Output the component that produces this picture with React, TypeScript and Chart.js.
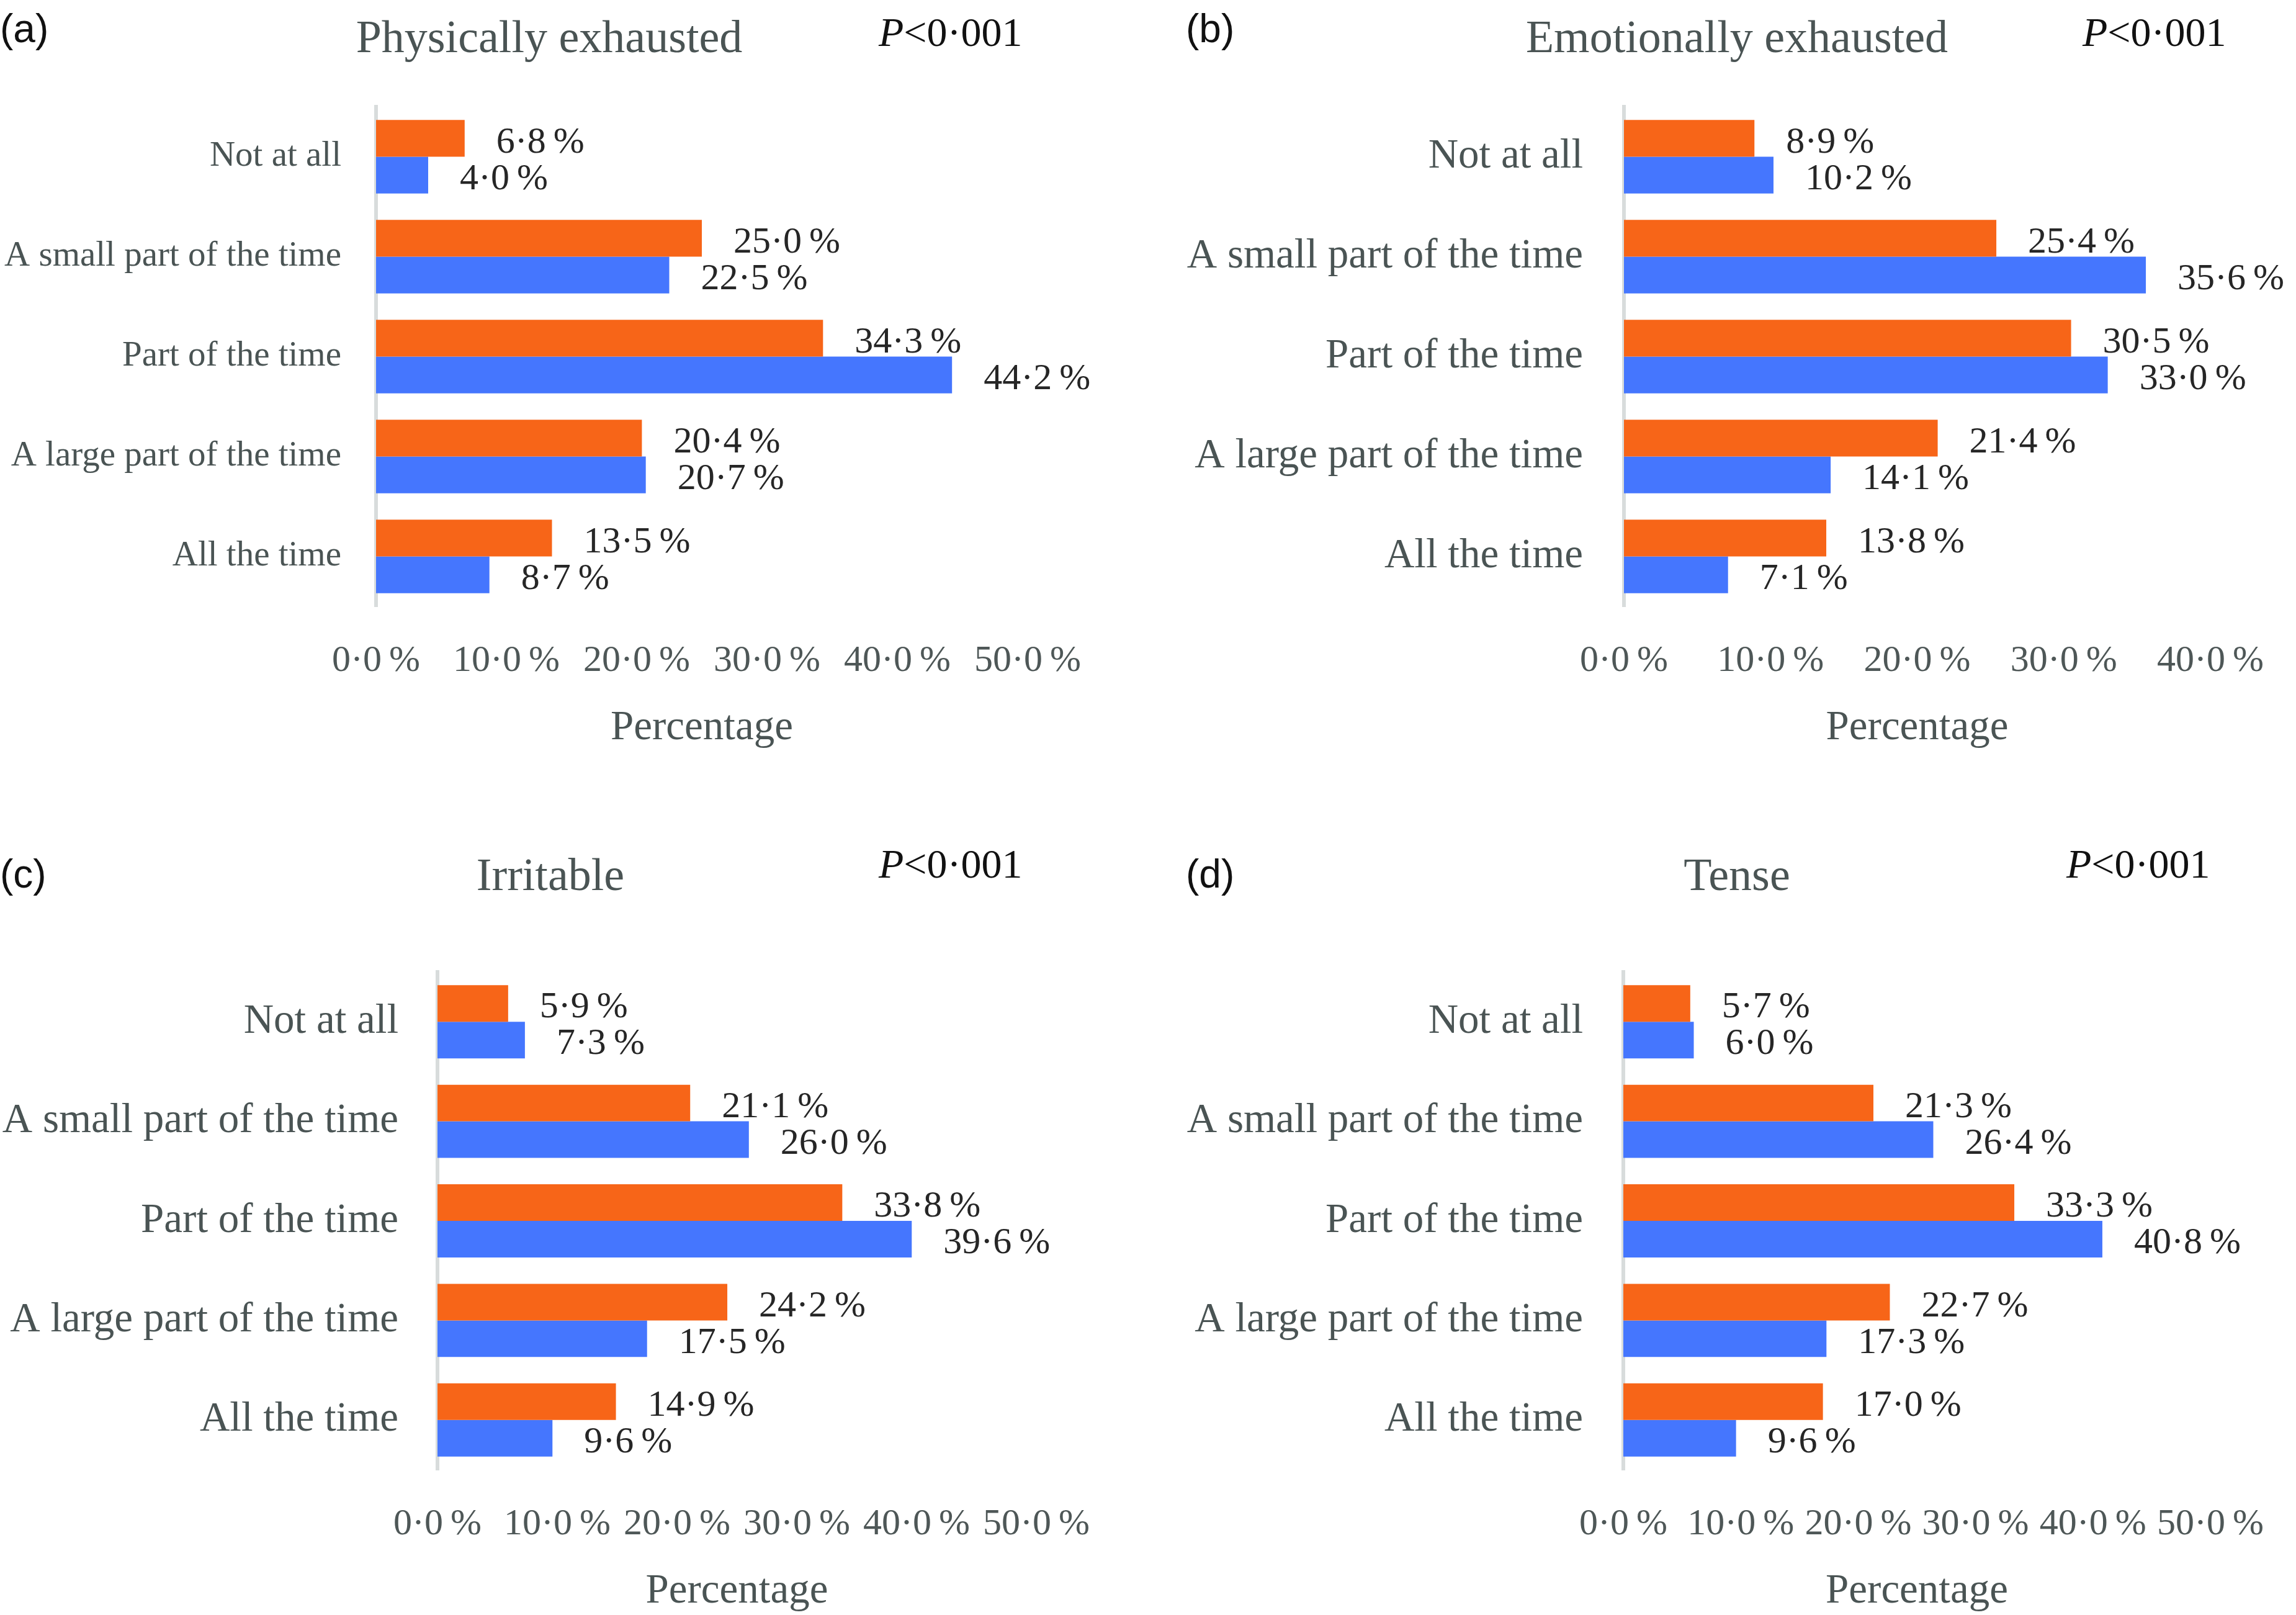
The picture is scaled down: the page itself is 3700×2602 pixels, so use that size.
import React, { useEffect, useRef } from "react";
import { Chart, registerables } from "chart.js";

Chart.register(...registerables);

// ---------------- DATA ----------------
const categories = [
  "Not at all",
  "A small part of the time",
  "Part of the time",
  "A large part of the time",
  "All the time",
];
const seriesNames = ["Group 1", "Group 2"];

const physicallyOrange = [6.8, 25.0, 34.3, 20.4, 13.5];
const physicallyBlue = [4.0, 22.5, 44.2, 20.7, 8.7];
const emotionallyOrange = [8.9, 25.4, 30.5, 21.4, 13.8];
const emotionallyBlue = [10.2, 35.6, 33.0, 14.1, 7.1];
const irritableOrange = [5.9, 21.1, 33.8, 24.2, 14.9];
const irritableBlue = [7.3, 26.0, 39.6, 17.5, 9.6];
const tenseOrange = [5.7, 21.3, 33.3, 22.7, 17.0];
const tenseBlue = [6.0, 26.4, 40.8, 17.3, 9.6];

const panelLetters = ["(a)", "(b)", "(c)", "(d)"];
const panelTitles = ["Physically exhausted", "Emotionally exhausted", "Irritable", "Tense"];
const pValueItalic = "P";
const pValueRest = "<0·001";
const axisMaxima = [50, 40, 50, 50];
const axisStep = 10;
const xAxisTitle = "Percentage";

const panelSeries = [
  [physicallyOrange, physicallyBlue],
  [emotionallyOrange, emotionallyBlue],
  [irritableOrange, irritableBlue],
  [tenseOrange, tenseBlue],
];

// ---------------- STYLE / LAYOUT ----------------
const SERIF = "'Liberation Serif', 'DejaVu Serif', serif";
const SANS = "'Liberation Sans', Arial, sans-serif";
const ORANGE = "#F76518";
const BLUE = "#4576FE";
const TEXT_GRAY = "#4A5454";
const TICK_GRAY = "#4E5757";
const LABEL_DARK = "#262626";
const AXIS_LINE = "#D8DCDC";

const X_AXIS_HEIGHT = 240;

const LAYOUT = [
  { left: 0, top: 0, width: 1850, axisLeft: 606, plotTop: 172, plotBottom: 977, plotRight: 1656, catFont: 57, catPad: 56,
    letterX: 0, letterY: 46, titleX: 885, titleY: 59, pX: 1416, pY: 52 },
  { left: 1850, top: 0, width: 1850, axisLeft: 2617, plotTop: 172, plotBottom: 977, plotRight: 3565, catFont: 67, catPad: 66,
    letterX: 1911, letterY: 46, titleX: 2799, titleY: 59, pX: 3356, pY: 52 },
  { left: 0, top: 1300, width: 1850, axisLeft: 705, plotTop: 1566, plotBottom: 2368, plotRight: 1670, catFont: 67, catPad: 63,
    letterX: 0, letterY: 1408, titleX: 887, titleY: 1409, pX: 1416, pY: 1392 },
  { left: 1850, top: 1300, width: 1850, axisLeft: 2616, plotTop: 1566, plotBottom: 2368, plotRight: 3583, catFont: 67, catPad: 65,
    letterX: 1911, letterY: 1408, titleX: 2799, titleY: 1409, pX: 3330, pY: 1392 },
];

function fmtPct(v: number): string {
  return v.toFixed(1).replace(".", "·") + "\u2009%";
}

const valueLabels = {
  id: "valueLabels",
  afterDatasetsDraw(chart: any) {
    const ctx = chart.ctx;
    ctx.save();
    ctx.font = `60px ${SERIF}`;
    ctx.fillStyle = LABEL_DARK;
    ctx.textAlign = "left";
    ctx.textBaseline = "middle";
    chart.data.datasets.forEach((ds: any, i: number) => {
      const meta = chart.getDatasetMeta(i);
      meta.data.forEach((el: any, j: number) => {
        ctx.fillText(fmtPct(ds.data[j]), el.x + 51, el.y + 7);
      });
    });
    ctx.restore();
  },
};

function Panel({ idx }: { idx: number }) {
  const ref = useRef<HTMLCanvasElement>(null);
  const L = LAYOUT[idx];
  const canvasHeight = L.plotBottom - L.top + X_AXIS_HEIGHT;

  useEffect(() => {
    const [orange, blue] = panelSeries[idx];
    const chart = new Chart(ref.current as HTMLCanvasElement, {
      type: "bar",
      data: {
        labels: categories,
        datasets: [
          { label: seriesNames[0], data: orange, backgroundColor: ORANGE, borderWidth: 0, categoryPercentage: 0.735, barPercentage: 1.0 },
          { label: seriesNames[1], data: blue, backgroundColor: BLUE, borderWidth: 0, categoryPercentage: 0.735, barPercentage: 1.0 },
        ],
      },
      options: {
        indexAxis: "y",
        animation: false,
        responsive: false,
        maintainAspectRatio: false,
        devicePixelRatio: 1,
        layout: {
          padding: { left: 0, top: L.plotTop - L.top, right: L.left + L.width - L.plotRight, bottom: 0 },
        },
        plugins: {
          legend: { display: false },
          tooltip: { enabled: false },
          title: { display: false },
        },
        scales: {
          x: {
            type: "linear",
            position: "bottom",
            min: 0,
            max: axisMaxima[idx],
            grid: { display: false, drawTicks: false },
            border: { display: false },
            ticks: {
              stepSize: axisStep,
              autoSkip: false,
              maxRotation: 0,
              padding: 52,
              color: TICK_GRAY,
              font: { family: SERIF, size: 60 },
              callback: (v: any) => fmtPct(Number(v)),
            },
            title: {
              display: true,
              text: xAxisTitle,
              color: TEXT_GRAY,
              font: { family: SERIF, size: 67 },
              padding: { top: 0, bottom: 3 },
            },
            afterFit: (s: any) => {
              s.height = X_AXIS_HEIGHT;
            },
          },
          y: {
            type: "category",
            position: "left",
            offset: true,
            grid: { display: false, drawTicks: false },
            border: { display: true, color: AXIS_LINE, width: 6 },
            ticks: {
              autoSkip: false,
              padding: L.catPad,
              color: TEXT_GRAY,
              font: { family: SERIF, size: L.catFont },
            },
            afterFit: (s: any) => {
              s.width = L.axisLeft - L.left;
            },
          },
        },
      } as any,
      plugins: [valueLabels],
    });
    return () => chart.destroy();
  }, [idx]);

  return (
    <canvas
      ref={ref}
      width={L.width}
      height={canvasHeight}
      style={{ position: "absolute", left: L.left, top: L.top, width: L.width, height: canvasHeight }}
    />
  );
}

function Overlay({ idx }: { idx: number }) {
  const L = LAYOUT[idx];
  const base: React.CSSProperties = { position: "absolute", whiteSpace: "nowrap", lineHeight: 1 };
  return (
    <>
      <div style={{ ...base, left: L.letterX, top: L.letterY, transform: "translateY(-50%)", fontFamily: SANS, fontSize: 64, color: "#111" }}>
        {panelLetters[idx]}
      </div>
      <div style={{ ...base, left: L.titleX, top: L.titleY, transform: "translate(-50%, -50%)", fontFamily: SERIF, fontSize: 74, color: TEXT_GRAY }}>
        {panelTitles[idx]}
      </div>
      <div style={{ ...base, left: L.pX, top: L.pY, transform: "translateY(-50%)", fontFamily: SERIF, fontSize: 66, color: "#111" }}>
        <i>{pValueItalic}</i>
        {pValueRest}
      </div>
    </>
  );
}

export default function App() {
  return (
    <div style={{ position: "absolute", left: 0, top: 0, width: 3700, height: 2602, overflow: "hidden", background: "#ffffff" }}>
      {[0, 1, 2, 3].map((i) => (
        <Panel key={"p" + i} idx={i} />
      ))}
      {[0, 1, 2, 3].map((i) => (
        <Overlay key={"o" + i} idx={i} />
      ))}
    </div>
  );
}
